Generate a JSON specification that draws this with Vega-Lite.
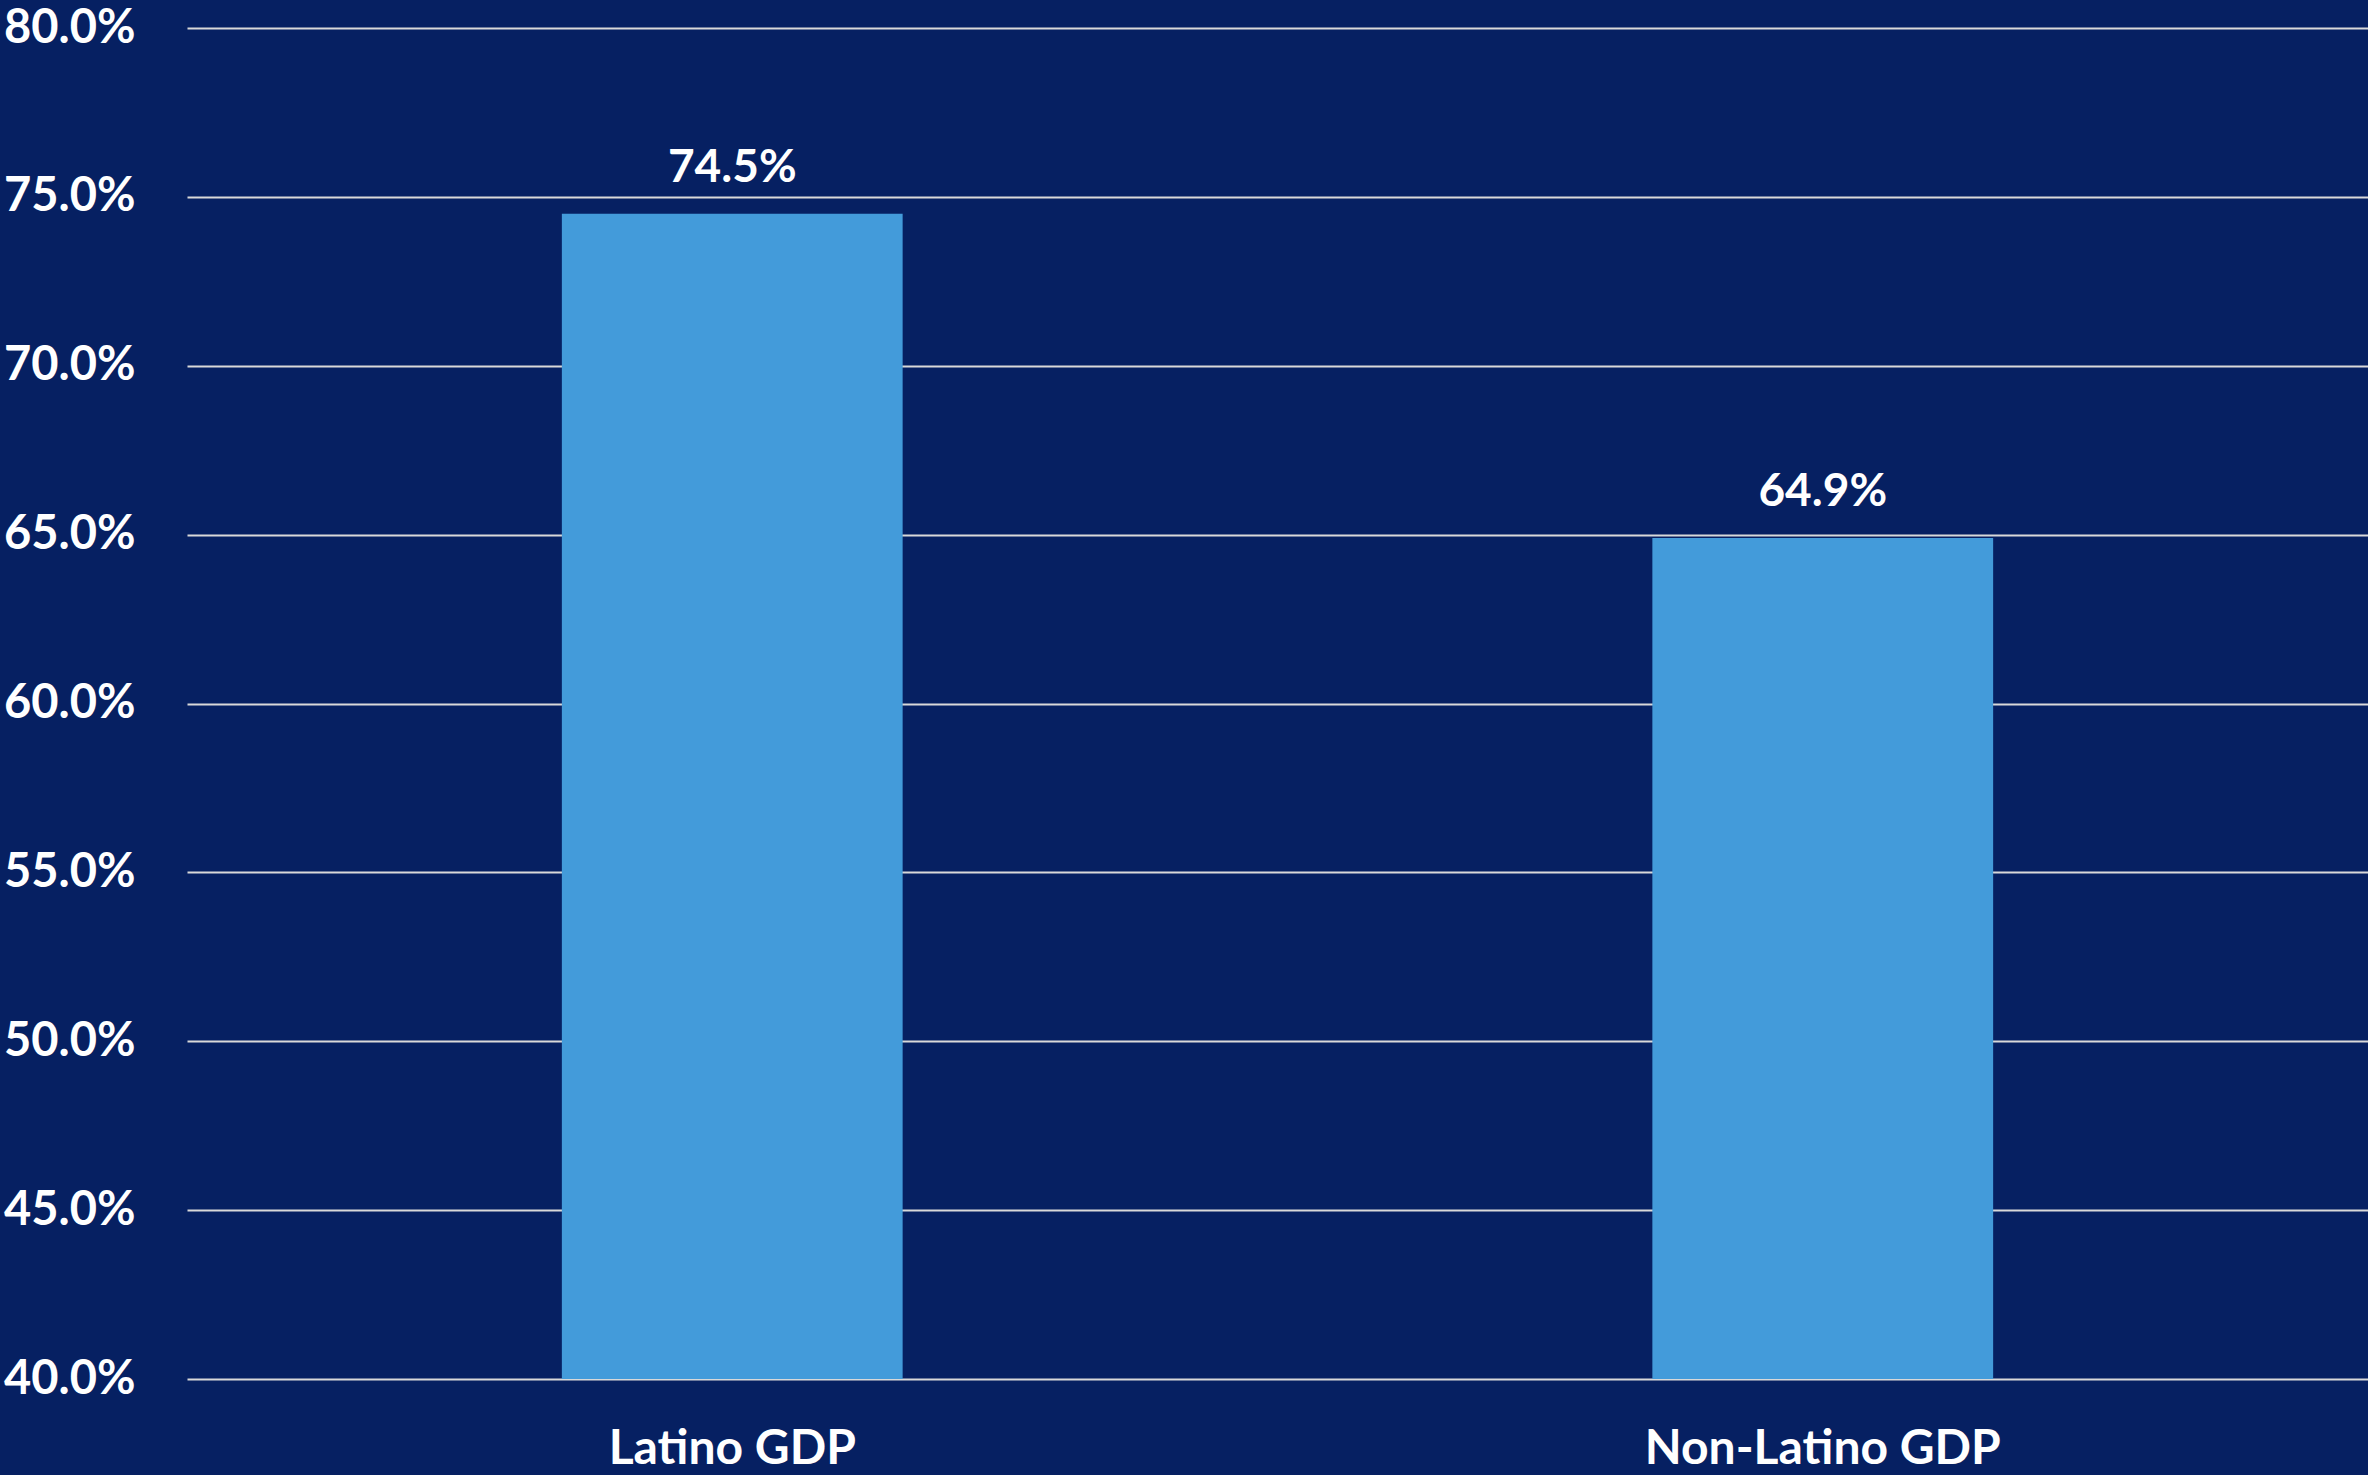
{
  "$schema": "https://vega.github.io/schema/vega-lite/v6.json",
  "autosize": "none",
  "padding": {"left": 187, "top": 28, "right": 0, "bottom": 96},
  "width": 2181,
  "height": 1351,
  "background": "#062062",
  "config": {
    "view": {"stroke": null},
    "font": "Lato"
  },
  "data": {
    "values": [
      {"category": "Latino GDP", "share": 0.745},
      {"category": "Non-Latino GDP", "share": 0.649}
    ]
  },
  "encoding": {
    "x": {
      "field": "category",
      "type": "nominal",
      "sort": null,
      "title": null,
      "scale": {"paddingInner": 0.6875, "paddingOuter": 0.34375},
      "axis": {
        "domain": false,
        "ticks": false,
        "tickSize": 0,
        "labelAngle": 0,
        "labelLimit": 0,
        "labelFont": "Lato",
        "labelFontWeight": "bold",
        "labelFontSize": 48,
        "labelColor": "#ffffff",
        "labelBaseline": "alphabetic",
        "labelPadding": 84
      }
    },
    "y": {
      "field": "share",
      "type": "quantitative",
      "title": null,
      "scale": {"domain": [0.4, 0.8], "zero": false},
      "axis": {
        "values": [0.4, 0.45, 0.5, 0.55, 0.6, 0.65, 0.7, 0.75, 0.8],
        "format": ".1%",
        "domain": false,
        "ticks": false,
        "tickSize": 0,
        "grid": true,
        "gridColor": "#D9D9D9",
        "gridWidth": 2,
        "labelLimit": 0,
        "labelFont": "Lato",
        "labelFontWeight": "bold",
        "labelFontSize": 47,
        "labelColor": "#ffffff",
        "labelPadding": 52
      }
    }
  },
  "layer": [
    {
      "mark": {"type": "bar", "color": "#439BDA", "clip": true}
    },
    {
      "mark": {
        "type": "text",
        "color": "#ffffff",
        "font": "Lato",
        "fontWeight": "bold",
        "fontSize": 46,
        "baseline": "alphabetic",
        "dy": -32
      },
      "encoding": {
        "text": {"field": "share", "type": "quantitative", "format": ".1%"}
      }
    }
  ]
}
